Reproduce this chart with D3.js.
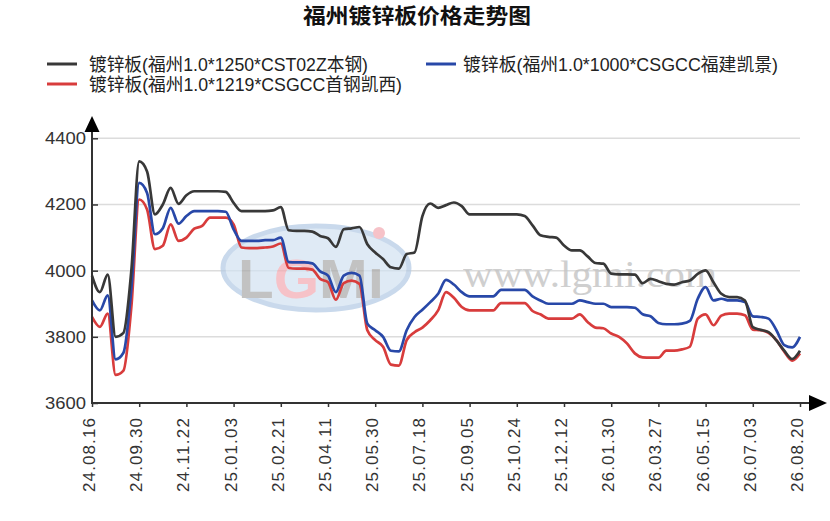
<!DOCTYPE html>
<html lang="zh">
<head>
<meta charset="UTF-8">
<title>福州镀锌板价格走势图</title>
<script src="https://d3js.org/d3.v7.min.js"></script>
<style>
  body { margin: 0; background: #fff; }
  svg text { font-family: "Liberation Sans", "Noto Sans CJK SC", sans-serif; }
  svg text.wm { font-family: "Liberation Serif", "DejaVu Serif", serif; }
</style>
</head>
<body>
<div id="chart"></div>
<script>
// x轴标签, 每两个标签之间6个数据点
var tickLabels = ["24.08.16", "24.09.30", "24.11.22", "25.01.03", "25.02.21", "25.04.11",
                  "25.05.30", "25.07.18", "25.09.05", "25.10.24", "25.12.12", "26.01.30",
                  "26.03.27", "26.05.15", "26.07.03", "26.08.20"];
var pointsPerTick = 6;

var seriesNames = ["镀锌板(福州1.0*1250*CST02Z本钢)",
                   "镀锌板(福州1.0*1000*CSGCC福建凯景)",
                   "镀锌板(福州1.0*1219*CSGCC首钢凯西)"];

// 本钢 (黑)
var benGang = [3985, 3935, 3988, 3800, 3812, 4000, 4330, 4300, 4170, 4200, 4250, 4202,
               4228, 4240, 4240, 4240, 4240, 4238, 4205, 4180, 4180, 4180, 4180, 4182,
               4192, 4122, 4120, 4120, 4118, 4105, 4098, 4072, 4125, 4128, 4132, 4080,
               4055, 4035, 4010, 4006, 4050, 4055, 4165, 4203, 4190, 4198, 4206, 4195,
               4170, 4170, 4170, 4170, 4170, 4170, 4170, 4165, 4137, 4107, 4102, 4100,
               4076, 4061, 4061, 4043, 4023, 4021, 3991, 3989, 3989, 3988, 3962, 3975,
               3968, 3960, 3958, 3965, 3970, 3990, 4001, 3965, 3930, 3920, 3920, 3910,
               3829, 3821, 3814, 3789, 3758, 3733, 3758];
// 福建凯景 (蓝)
var kaiJing = [3910, 3880, 3925, 3732, 3752, 3945, 4265, 4235, 4110, 4128, 4190, 4142,
               4165, 4180, 4180, 4180, 4180, 4178, 4125, 4090, 4090, 4090, 4092, 4092,
               4100, 4026, 4025, 4025, 4022, 3998, 3985, 3935, 3985, 3993, 3985, 3840,
               3820, 3800, 3758, 3756, 3820, 3860, 3882, 3905, 3930, 3972, 3958, 3935,
               3922, 3922, 3922, 3922, 3942, 3942, 3942, 3942, 3922, 3910, 3900, 3900,
               3900, 3900, 3910, 3905, 3900, 3900, 3890, 3890, 3890, 3888, 3868, 3862,
               3842, 3838, 3838, 3840, 3848, 3915, 3950, 3910, 3915, 3910, 3910, 3905,
               3862, 3860, 3855, 3820, 3775, 3768, 3800];
// 首钢凯西 (红)
var kaiXi = [3860, 3830, 3870, 3685, 3698, 3890, 4215, 4185, 4065, 4075, 4140, 4090,
             4100, 4127, 4135, 4160, 4160, 4160, 4140, 4070, 4068, 4068, 4070, 4073,
             4082, 4008, 4006, 4006, 4003, 3975, 3965, 3912, 3962, 3970, 3960, 3820,
             3790, 3770, 3716, 3713, 3790, 3814, 3828, 3850, 3880, 3935, 3918, 3890,
             3880, 3880, 3880, 3880, 3902, 3902, 3902, 3902, 3878, 3868, 3855, 3855,
             3855, 3855, 3868, 3845, 3828, 3826, 3810, 3800, 3780, 3750, 3738, 3737,
             3737, 3758, 3758, 3762, 3770, 3855, 3868, 3835, 3864, 3870, 3870, 3865,
             3822, 3820, 3812, 3790, 3755, 3728, 3750];

var yTicks = [3600, 3800, 4000, 4200, 4400];

var width = 830, height = 521;
var svg = d3.select("#chart").append("svg")
            .attr("width", width)
            .attr("height", height);

var x = d3.scaleLinear()
          .domain([0, benGang.length - 1])
          .range([92, 800]);
var y = d3.scaleLinear()
          .domain([3600, 4400])
          .range([403, 138.3]);

// 标题
svg.append("text")
   .attr("x", 417).attr("y", 23)
   .attr("text-anchor", "middle")
   .attr("font-size", 21)
   .attr("font-weight", "bold")
   .attr("textLength", 228)
   .attr("lengthAdjust", "spacingAndGlyphs")
   .attr("fill", "#111")
   .text("福州镀锌板价格走势图");

// 图例
var colors = ["#383838", "#2848a8", "#d83c3c"];
var legendPos = [{lx: 47, ly: 64, tx: 89, tl: 279},
                 {lx: 426, ly: 64, tx: 463, tl: 315},
                 {lx: 47, ly: 84, tx: 89, tl: 313}];
var legend = svg.append("g").selectAll("g")
    .data(seriesNames).enter().append("g");
legend.append("line")
    .attr("x1", function(d, i){ return legendPos[i].lx; })
    .attr("x2", function(d, i){ return legendPos[i].lx + 30; })
    .attr("y1", function(d, i){ return legendPos[i].ly; })
    .attr("y2", function(d, i){ return legendPos[i].ly; })
    .attr("stroke", function(d, i){ return colors[i]; })
    .attr("stroke-width", 3);
legend.append("text")
    .attr("x", function(d, i){ return legendPos[i].tx; })
    .attr("y", function(d, i){ return legendPos[i].ly + 7; })
    .attr("font-size", 18)
    .attr("fill", "#222")
    .attr("textLength", function(d, i){ return legendPos[i].tl; })
    .attr("lengthAdjust", "spacingAndGlyphs")
    .text(function(d){ return d; });

// 网格线
svg.append("g").selectAll("line")
   .data(yTicks.slice(1)).enter().append("line")
   .attr("x1", 92).attr("x2", 800)
   .attr("y1", function(d){ return y(d); })
   .attr("y2", function(d){ return y(d); })
   .attr("stroke", "#dcdcdc")
   .attr("stroke-width", 1.5);

// 水印
var wm = svg.append("g").attr("opacity", 0.7);
wm.append("ellipse")
  .attr("cx", 316).attr("cy", 268).attr("rx", 93).attr("ry", 42)
  .attr("fill", "#d2e2f2").attr("stroke", "#b3cae4").attr("stroke-width", 5);
var logo = wm.append("text")
  .attr("x", 238).attr("y", 298)
  .attr("font-size", 56).attr("font-weight", "bold")
  .attr("textLength", 146).attr("lengthAdjust", "spacingAndGlyphs");
logo.append("tspan").attr("fill", "#a9a9a9").text("L");
logo.append("tspan").attr("fill", "#f3a9b1").text("G");
logo.append("tspan").attr("fill", "#a9a9a9").text("Mı");
wm.append("circle").attr("cx", 379).attr("cy", 233).attr("r", 6).attr("fill", "#f3a9b1");
svg.append("text")
   .attr("class", "wm")
   .attr("x", 463).attr("y", 287)
   .attr("font-size", 38)
   .attr("textLength", 254)
   .attr("lengthAdjust", "spacingAndGlyphs")
   .attr("fill", "#c4c4c4")
   .attr("opacity", 0.8)
   .text("www.lgmi.com");

// 折线
var line = d3.line()
    .x(function(d, i){ return x(i); })
    .y(function(d){ return y(d); })
    .curve(d3.curveMonotoneX);

var allSeries = [kaiXi, kaiJing, benGang];
var drawColors = [colors[2], colors[1], colors[0]];
svg.append("g").selectAll("path")
   .data(allSeries).enter().append("path")
   .attr("d", line)
   .attr("fill", "none")
   .attr("stroke", function(d, i){ return drawColors[i]; })
   .attr("stroke-width", 2.7)
   .attr("stroke-linejoin", "round");

// y轴
var yAxis = d3.axisLeft(y)
    .tickValues(yTicks)
    .tickFormat(d3.format("d"))
    .tickSizeInner(-6)
    .tickSizeOuter(0)
    .tickPadding(6);
var gy = svg.append("g").attr("transform", "translate(92,0)").call(yAxis);
gy.select(".domain").remove();
gy.selectAll("line").attr("stroke", "#333").attr("stroke-width", 1.5);
gy.selectAll("text")
  .attr("font-size", 17)
  .attr("fill", "#333")
  .attr("textLength", 41)
  .attr("lengthAdjust", "spacingAndGlyphs");

// x轴
var xTickIdx = tickLabels.map(function(d, i){ return i * pointsPerTick; });
var xAxis = d3.axisBottom(x)
    .tickValues(xTickIdx)
    .tickFormat(function(d){ return tickLabels[d / pointsPerTick]; })
    .tickSizeInner(4)
    .tickSizeOuter(0);
var gx = svg.append("g").attr("transform", "translate(0,403)").call(xAxis);
gx.select(".domain").remove();
gx.selectAll("line").attr("stroke", "#333").attr("stroke-width", 1.5);
gx.selectAll("text")
  .attr("transform", "rotate(-90)")
  .attr("text-anchor", "end")
  .attr("x", -15)
  .attr("y", 2.5)
  .attr("dy", null)
  .attr("font-size", 17)
  .attr("fill", "#333")
  .attr("textLength", 74)
  .attr("lengthAdjust", "spacing");

// 坐标轴线和箭头
svg.append("line").attr("x1", 92).attr("x2", 92).attr("y1", 404).attr("y2", 128)
   .attr("stroke", "#333").attr("stroke-width", 2);
svg.append("line").attr("x1", 91).attr("x2", 812).attr("y1", 403).attr("y2", 403)
   .attr("stroke", "#333").attr("stroke-width", 2);
svg.append("path").attr("d", "M92,116 L84.5,132 L99.5,132 Z").attr("fill", "#000");
svg.append("path").attr("d", "M827,403 L809,395 L809,411 Z").attr("fill", "#000");
</script>
</body>
</html>
